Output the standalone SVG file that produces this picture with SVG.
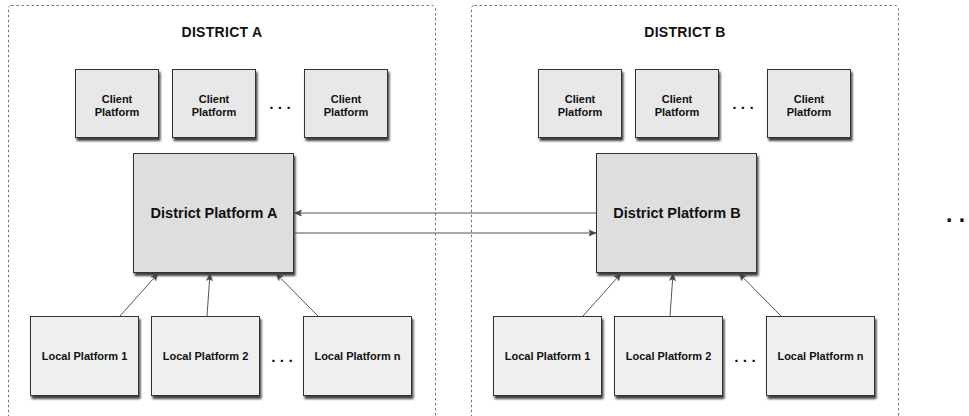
<svg xmlns="http://www.w3.org/2000/svg" width="969" height="416" viewBox="0 0 969 416">
<defs>
<filter id="sh" x="-10%" y="-10%" width="130%" height="130%">
<feDropShadow dx="1.5" dy="3" stdDeviation="1.2" flood-color="#000" flood-opacity="0.75"/>
</filter>
<marker id="ah" viewBox="0 0 8 8" refX="7.5" refY="4" markerWidth="8" markerHeight="8" markerUnits="userSpaceOnUse" orient="auto">
<path d="M0.5,1 L7.5,4 L0.5,7 L2,4 Z" fill="#444" stroke="#444" stroke-width="0.6"/>
</marker>
</defs>
<style>
text{font-family:"Liberation Sans",Arial,Helvetica,sans-serif;font-weight:bold;fill:#111;text-anchor:middle}
.cont{fill:none;stroke:#777;stroke-width:1;stroke-dasharray:2.5,2.5}
.title{font-size:14px;letter-spacing:0.3px}
.client{fill:#e8e8e8;stroke:#333;stroke-width:1;filter:url(#sh)}
.dist{fill:#dedede;stroke:#333;stroke-width:1;filter:url(#sh)}
.local{fill:#efefef;stroke:#333;stroke-width:1;filter:url(#sh)}
.t11{font-size:11px}
.t14{font-size:14.5px}
.dots{font-size:15.5px}
.bigdots{font-size:23px}
.conn{stroke:#555;stroke-width:1;fill:none;marker-end:url(#ah)}
</style>

<g id="districtA">
<rect class="cont" x="8.5" y="5.5" width="427" height="425" rx="3"/>
<text class="title" x="222" y="37">DISTRICT A</text>
</g>
<g id="districtB">
<rect class="cont" x="471.5" y="5.5" width="427" height="425" rx="3"/>
<text class="title" x="685" y="37">DISTRICT B</text>
</g>

<g id="clientA1"><rect class="client" x="75.5" y="69.5" width="83" height="68"/><text class="t11" x="117" y="103">Client</text><text class="t11" x="117" y="116">Platform</text></g>
<g id="clientA2"><rect class="client" x="172.5" y="69.5" width="83" height="68"/><text class="t11" x="214" y="103">Client</text><text class="t11" x="214" y="116">Platform</text></g>
<g id="clientA3"><rect class="client" x="304.5" y="69.5" width="83" height="68"/><text class="t11" x="346" y="103">Client</text><text class="t11" x="346" y="116">Platform</text></g>
<text class="dots" x="280" y="109">. . .</text>

<g id="districtPlatformA"><rect class="dist" x="133.5" y="153.5" width="160" height="119"/><text class="t14" x="214" y="218">District Platform A</text></g>

<g id="localA1"><rect class="local" x="30.5" y="316.5" width="108" height="79"/><text class="t11" x="84.5" y="360">Local Platform 1</text></g>
<g id="localA2"><rect class="local" x="151.5" y="316.5" width="108" height="79"/><text class="t11" x="205.5" y="360">Local Platform 2</text></g>
<g id="localA3"><rect class="local" x="303.5" y="316.5" width="108" height="79"/><text class="t11" x="357.5" y="360">Local Platform n</text></g>
<text class="dots" x="282" y="362">. . .</text>

<g id="clientB1"><rect class="client" x="538.5" y="69.5" width="83" height="68"/><text class="t11" x="580" y="103">Client</text><text class="t11" x="580" y="116">Platform</text></g>
<g id="clientB2"><rect class="client" x="635.5" y="69.5" width="83" height="68"/><text class="t11" x="677" y="103">Client</text><text class="t11" x="677" y="116">Platform</text></g>
<g id="clientB3"><rect class="client" x="767.5" y="69.5" width="83" height="68"/><text class="t11" x="809" y="103">Client</text><text class="t11" x="809" y="116">Platform</text></g>
<text class="dots" x="743" y="109">. . .</text>

<g id="districtPlatformB"><rect class="dist" x="596.5" y="153.5" width="160" height="119"/><text class="t14" x="677" y="218">District Platform B</text></g>

<g id="localB1"><rect class="local" x="493.5" y="316.5" width="108" height="79"/><text class="t11" x="547.5" y="360">Local Platform 1</text></g>
<g id="localB2"><rect class="local" x="614.5" y="316.5" width="108" height="79"/><text class="t11" x="668.5" y="360">Local Platform 2</text></g>
<g id="localB3"><rect class="local" x="766.5" y="316.5" width="108" height="79"/><text class="t11" x="820.5" y="360">Local Platform n</text></g>
<text class="dots" x="745" y="362">. . .</text>

<text class="bigdots" x="955.5" y="222">. .</text>

<g id="connectors">
<line class="conn" x1="596" y1="213" x2="294.5" y2="213"/>
<line class="conn" x1="294" y1="233" x2="596" y2="233"/>
<line class="conn" x1="120" y1="316" x2="158" y2="273.5"/>
<line class="conn" x1="207" y1="316" x2="210" y2="273.5"/>
<line class="conn" x1="318" y1="316" x2="276" y2="273.5"/>
<line class="conn" x1="583" y1="316" x2="621" y2="273.5"/>
<line class="conn" x1="670" y1="316" x2="673" y2="273.5"/>
<line class="conn" x1="781" y1="316" x2="739" y2="273.5"/>
</g>
</svg>
